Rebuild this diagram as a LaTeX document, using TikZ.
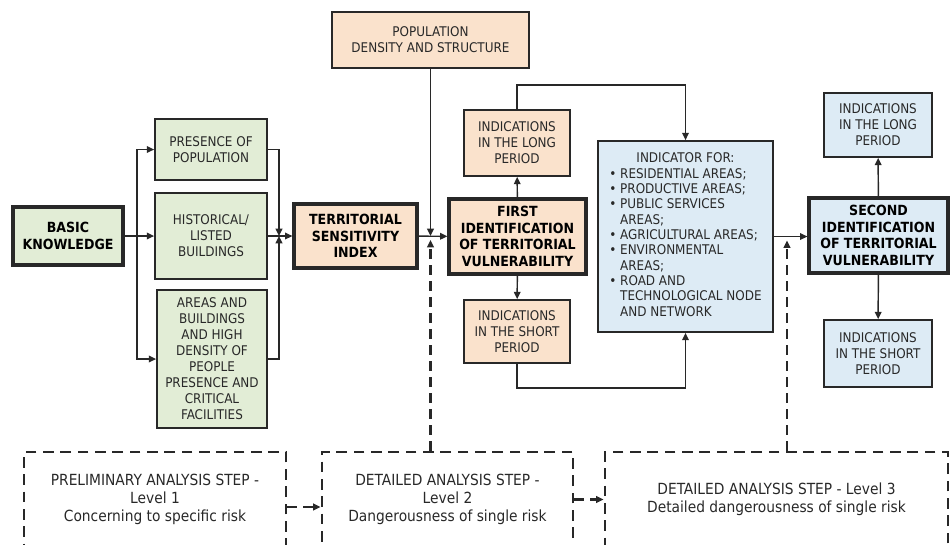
\documentclass[tikz,border=0pt]{standalone}
\usepackage{fontspec}
\setmainfont{DejaVu Sans Condensed}
\usetikzlibrary{arrows.meta,positioning,calc}

\definecolor{greenfill}{RGB}{226,237,214}
\definecolor{orangefill}{RGB}{250,226,204}
\definecolor{bluefill}{RGB}{221,235,245}
\definecolor{inkgray}{RGB}{40,40,40}

\begin{document}
\begin{tikzpicture}[x=0.75pt,y=-0.75pt,>={Triangle[length=5.5pt,width=5pt]},line width=1.1pt,draw=inkgray,
  box/.style={draw=inkgray,line width=1.3pt,align=center,inner sep=2pt,text=inkgray,font=\fontsize{10}{12}\selectfont},
  keybox/.style={box,line width=2.4pt,text=black,font=\bfseries\fontsize{10.5}{12.5}\selectfont},
  stepbox/.style={draw=inkgray,line width=2.2pt,dash pattern=on 8pt off 5pt,align=center,text=inkgray,font=\fontsize{11.5}{13.5}\selectfont},
  dashlink/.style={->,line width=2.2pt,dash pattern=on 7pt off 5pt}]
\clip (0,0) rectangle (950,544);
% knowledge and sensitivity
\node[keybox,fill=greenfill,minimum width=82.5pt,minimum height=43.5pt] (basic) at (68,236) {BASIC\\KNOWLEDGE};
\node[box,fill=greenfill,minimum width=84pt,minimum height=45.75pt] (pres) at (211,149.5) {PRESENCE OF\\POPULATION};
\node[box,fill=greenfill,minimum width=84pt,minimum height=64.5pt] (hist) at (211,236) {HISTORICAL/\\LISTED\\BUILDINGS};
\node[box,fill=greenfill,minimum width=82.5pt,minimum height=103.5pt] (areas) at (212,359) {AREAS AND\\BUILDINGS\\AND HIGH\\DENSITY OF\\PEOPLE\\PRESENCE AND\\CRITICAL\\FACILITIES};
\node[keybox,fill=orangefill,minimum width=92.25pt,minimum height=48pt] (tsi) at (355.5,236) {TERRITORIAL\\SENSITIVITY\\INDEX};
\node[box,fill=orangefill,minimum width=147.75pt,minimum height=42pt] (pop) at (430.5,40) {POPULATION\\DENSITY AND STRUCTURE};
% first identification
\node[keybox,fill=orangefill,minimum width=102.75pt,minimum height=56.25pt] (first) at (517.5,236.5) {FIRST\\IDENTIFICATION\\OF TERRITORIAL\\VULNERABILITY};
\node[box,fill=orangefill,minimum width=79.5pt,minimum height=49.5pt] (flong) at (517,143) {INDICATIONS\\IN THE LONG\\PERIOD};
\node[box,fill=orangefill,minimum width=80pt,minimum height=47.25pt] (fshort) at (517,331.5) {INDICATIONS\\IN THE SHORT\\PERIOD};
\node[box,fill=bluefill,minimum width=131.25pt,minimum height=143.25pt,font=\fontsize{10}{11.5}\selectfont] (ind) at (685.5,236.5) {%
  \begin{tabular}{@{}l@{}}
  \multicolumn{1}{@{}c@{}}{INDICATOR FOR:}\\
  \textbullet\ RESIDENTIAL AREAS;\\
  \textbullet\ PRODUCTIVE AREAS;\\
  \textbullet\ PUBLIC SERVICES\\
  \phantom{\textbullet\ }AREAS;\\
  \textbullet\ AGRICULTURAL AREAS;\\
  \textbullet\ ENVIRONMENTAL\\
  \phantom{\textbullet\ }AREAS;\\
  \textbullet\ ROAD AND\\
  \phantom{\textbullet\ }TECHNOLOGICAL NODE\\
  \phantom{\textbullet\ }AND NETWORK
  \end{tabular}};
% second identification
\node[keybox,fill=bluefill,minimum width=104.25pt,minimum height=56.25pt] (second) at (878.5,235.5) {SECOND\\IDENTIFICATION\\OF TERRITORIAL\\VULNERABILITY};
\node[box,fill=bluefill,minimum width=81pt,minimum height=48pt] (slong) at (878,125) {INDICATIONS\\IN THE LONG\\PERIOD};
\node[box,fill=bluefill,minimum width=81pt,minimum height=50.25pt] (sshort) at (878,353.5) {INDICATIONS\\IN THE SHORT\\PERIOD};
% analysis steps
\node[stepbox,minimum width=196.5pt,minimum height=71.25pt] (step1) at (155,499.5) {PRELIMINARY ANALYSIS STEP -\\Level 1\\Concerning to specific risk};
\node[stepbox,minimum width=188.25pt,minimum height=71.25pt] (step2) at (447.5,499.5) {DETAILED ANALYSIS STEP -\\Level 2\\Dangerousness of single risk};
\node[stepbox,minimum width=257.25pt,minimum height=71.25pt] (step3) at (776.5,499.5) {DETAILED ANALYSIS STEP - Level 3\\Detailed dangerousness of single risk};

\coordinate (split) at (137,236);
\coordinate (merge) at (279,236);
\coordinate (j1) at (pop.south |- tsi.east);
\coordinate (j2) at (787,236.5);

\draw[->] (basic) -- (hist);
\draw[->] (split) |- (pres);
\draw[->] (split) |- (areas);
\draw[->] (pres) -| (merge);
\draw[->] (areas) -| (merge);
\draw[->] (hist) -- (tsi);
\draw[->] (pop) -- (j1);
\draw[->] (tsi) -- (first);
\draw[dashlink] (j1 |- step2.north) -- ($(j1)+(0,4)$);
\draw[->] (first) -- (flong);
\draw[->] (first) -- (fshort);
\draw[->] (flong.north) -- ++(0,-24) -| (ind.north);
\draw[->] (fshort.south) -- ++(0,24) -| (ind.south);
\draw[->] (ind) -- (ind -| second.west);
\draw[dashlink] (j2 |- step3.north) -- ($(j2)+(0,4)$);
\draw[->] (second) -- (slong);
\draw[->] (second) -- (sshort);
\draw[dashlink] ([yshift=-5.6pt]step1.east) -- ([yshift=-5.6pt]step2.west);
\draw[dashlink] (step2) -- (step3);
\end{tikzpicture}
\end{document}
